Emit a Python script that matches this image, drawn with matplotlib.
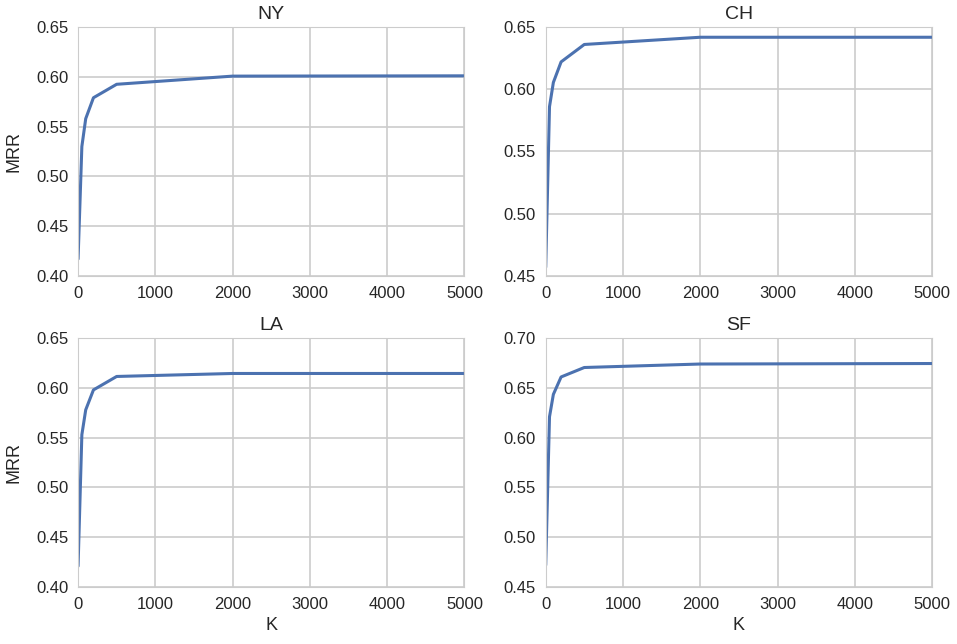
import matplotlib
matplotlib.use('Agg')
import matplotlib.pyplot as plt
import seaborn as sns

sns.set_style('whitegrid')
plt.rcParams['font.family'] = ['Liberation Sans', 'DejaVu Sans']
plt.rcParams['text.color'] = '.15'
plt.rcParams['axes.labelcolor'] = '.15'
plt.rcParams['xtick.color'] = '.15'
plt.rcParams['ytick.color'] = '.15'

k_values = [1, 50, 100, 200, 500, 2000, 5000]
cities = ['NY', 'CH', 'LA', 'SF']
mrr_ny = [0.417, 0.530, 0.558, 0.579, 0.5925, 0.6007, 0.601]
mrr_ch = [0.457, 0.586, 0.6055, 0.622, 0.636, 0.6418, 0.6418]
mrr_la = [0.421, 0.553, 0.578, 0.598, 0.6115, 0.6145, 0.6145]
mrr_sf = [0.472, 0.621, 0.6435, 0.661, 0.6705, 0.674, 0.6745]
y_limits = [(0.40, 0.65), (0.45, 0.65), (0.40, 0.65), (0.45, 0.70)]

fig, axes = plt.subplots(2, 2, figsize=(9.57, 6.44), dpi=100)
plt.subplots_adjust(left=0.0815, right=0.974, top=0.958, bottom=0.0885,
                    wspace=0.21, hspace=0.25)

for ax, city, mrr, ylim in zip(axes.flat, cities, [mrr_ny, mrr_ch, mrr_la, mrr_sf], y_limits):
    ax.plot(k_values, mrr, color='#4C72B0', linewidth=2.2)
    ax.set_xlim(0, 5000)
    ax.set_ylim(*ylim)
    ax.set_title(city, fontsize=14)
    ax.tick_params(labelsize=12, length=0, pad=7)
    n = int(round((ylim[1] - ylim[0]) / 0.05)) + 1
    yt = [round(ylim[0] + 0.05 * i, 2) for i in range(n)]
    ax.set_yticks(yt)
    ax.set_yticklabels(['%.2f' % t for t in yt])
    ax.set_xticks([0, 1000, 2000, 3000, 4000, 5000])
    for s in ax.spines.values():
        s.set_color('#cccccc')
    ax.grid(color='#cccccc', linewidth=1.2)

axes[0, 0].set_ylabel('MRR', fontsize=13, labelpad=10)
axes[1, 0].set_ylabel('MRR', fontsize=13, labelpad=10)
axes[1, 0].set_xlabel('K', fontsize=13, labelpad=4)
axes[1, 1].set_xlabel('K', fontsize=13, labelpad=4)

plt.savefig('out.png', dpi=100)
